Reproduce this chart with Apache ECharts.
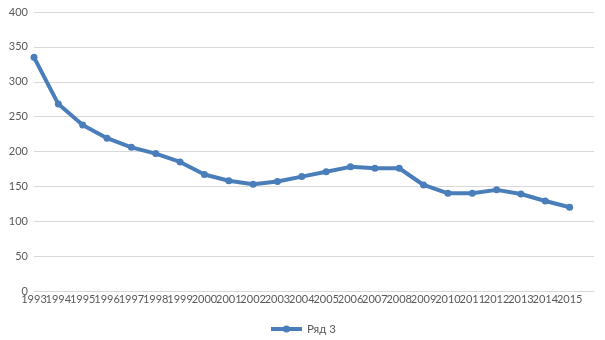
<!DOCTYPE html>
<html><head><meta charset="utf-8">
<script src="https://cdn.jsdelivr.net/npm/echarts@6/dist/echarts.min.js"></script>
<style>html,body{margin:0;padding:0;background:#fff}#c{width:605px;height:340px}</style>
</head><body><div id="c"></div>
<script>
var years = ['1993','1994','1995','1996','1997','1998','1999','2000','2001','2002','2003','2004','2005','2006','2007','2008','2009','2010','2011','2012','2013','2014','2015'];
var values = [335,268,238,219,206,197,185,167,158,153,157,164,171,178,176,176,152,140,140,145,139,129,120];
var seriesName = 'Ряд 3';
var yTicks = {min:0, max:400, interval:50};

var chart = echarts.init(document.getElementById('c'));
chart.setOption({
  animation:false,
  textStyle:{fontFamily:'Lato'},
  grid:{left:34,right:11,top:12,bottom:49},
  xAxis:{type:'category',data:years.concat(['']),boundaryGap:false,
    axisLine:{show:true,lineStyle:{color:'#d9d9d9'}},axisTick:{show:false},
    splitLine:{show:false},
    axisLabel:{color:'#595959',fontSize:11,margin:3,interval:0,hideOverlap:false}},
  yAxis:{type:'value',min:yTicks.min,max:yTicks.max,interval:yTicks.interval,
    axisLine:{show:false},axisTick:{show:false},
    splitLine:{lineStyle:{color:'#d9d9d9',width:1}},
    axisLabel:{color:'#595959',fontSize:11,margin:6}},
  legend:{bottom:0,left:'center',itemWidth:31,itemHeight:9,itemGap:4,
    lineStyle:{width:4},
    textStyle:{color:'#595959',fontSize:11.5},data:[seriesName]},
  series:[{name:seriesName,type:'line',data:values,symbol:'circle',symbolSize:7,
    lineStyle:{color:'#4a7ebb',width:4},itemStyle:{color:'#4a7ebb'}}]
});
</script></body></html>
